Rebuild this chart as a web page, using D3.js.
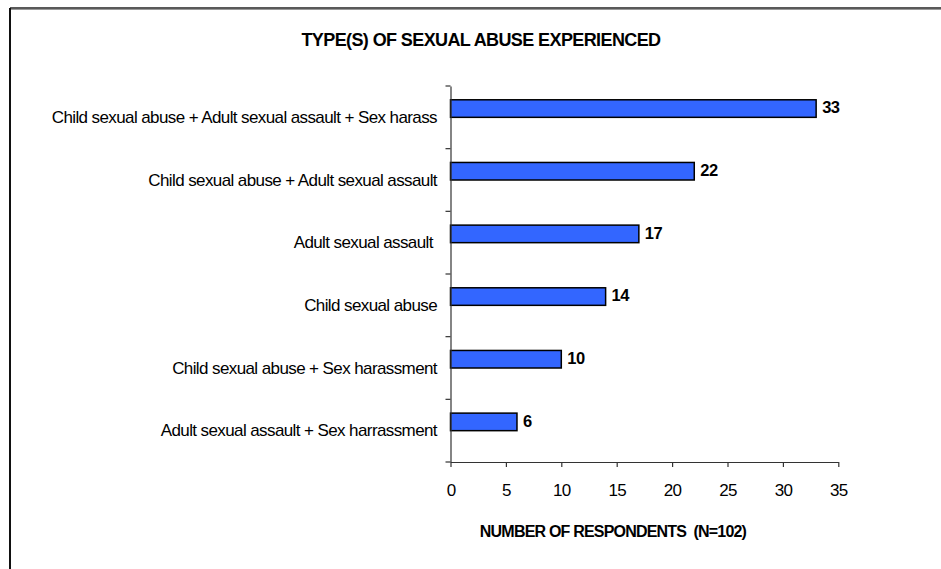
<!DOCTYPE html>
<html>
<head>
<meta charset="utf-8">
<script src="https://cdn.jsdelivr.net/npm/d3@7"></script>
<style>
  html, body { margin: 0; padding: 0; background: #fff; }
  svg { display: block; font-family: "Liberation Sans", Arial, sans-serif; }
</style>
</head>
<body>
<svg id="chart" width="941" height="569"></svg>
<script>
const categories = [
  "Child sexual abuse + Adult sexual assault + Sex harass",
  "Child sexual abuse + Adult sexual assault",
  "Adult sexual assault ",
  "Child sexual abuse",
  "Child sexual abuse + Sex harassment",
  "Adult sexual assault + Sex harrassment"
];
const values = [33, 22, 17, 14, 10, 6];
const xTicks = [0, 5, 10, 15, 20, 25, 30, 35];
const title = "TYPE(S) OF SEXUAL ABUSE EXPERIENCED";
const xTitle = "NUMBER OF RESPONDENTS  (N=102)";

const svg = d3.select("#chart");

// frame (top + left borders)
svg.append("line").attr("x1", 10).attr("y1", 8).attr("x2", 941).attr("y2", 8)
  .attr("stroke", "#222").attr("stroke-width", 1.5);
svg.append("line").attr("x1", 10).attr("y1", 9.5).attr("x2", 941).attr("y2", 9.5)
  .attr("stroke", "#999").attr("stroke-width", 1);
svg.append("line").attr("x1", 10).attr("y1", 8).attr("x2", 10).attr("y2", 569)
  .attr("stroke", "#111").attr("stroke-width", 2);

const x = d3.scaleLinear().domain([0, 35]).range([450.5, 838.3]);
const y = d3.scaleBand().domain(categories).range([86, 462]).padding(0);
const bw = y.bandwidth();

// title
svg.append("text").attr("x", 481).attr("y", 46).attr("text-anchor", "middle")
  .attr("font-size", 18).attr("font-weight", "bold").attr("letter-spacing", -0.6)
  .attr("fill", "#000").text(title);

// bars
svg.selectAll("rect.bar").data(values).join("rect").attr("class", "bar")
  .attr("x", x(0))
  .attr("y", (d, i) => y(categories[i]) + bw * 0.22)
  .attr("width", d => x(d) - x(0))
  .attr("height", bw * 0.28)
  .attr("fill", "#3366FF").attr("stroke", "#000").attr("stroke-width", 1.5);

// value labels
svg.selectAll("text.val").data(values).join("text").attr("class", "val")
  .attr("x", d => x(d) + 6)
  .attr("y", (d, i) => y(categories[i]) + bw * 0.22 + 13.5)
  .attr("font-size", 16.5).attr("font-weight", "bold").attr("letter-spacing", -0.5)
  .attr("fill", "#000").text(d => d);

// y axis
const yAxis = d3.axisLeft(y).tickSize(0).tickFormat("");
const gy = svg.append("g").attr("transform", `translate(${x(0)},0)`).call(yAxis);
gy.select(".domain").attr("stroke", "#333").attr("stroke-width", 1.2);
// boundary ticks between categories
const bounds = categories.map(c => y(c)).concat([y.range()[1]]);
svg.selectAll("line.ytick").data(bounds).join("line").attr("class", "ytick")
  .attr("x1", x(0) - 5).attr("x2", x(0)).attr("y1", d => d).attr("y2", d => d)
  .attr("stroke", "#333").attr("stroke-width", 1.2);

// category labels
svg.selectAll("text.cat").data(categories).join("text").attr("class", "cat")
  .attr("x", 437).attr("y", d => y(d) + bw / 2 + 5.5)
  .attr("text-anchor", "end").attr("font-size", 17).attr("letter-spacing", -0.6)
  .style("white-space", "pre")
  .attr("fill", "#000").text(d => d);

// x axis
const xAxis = d3.axisBottom(x).tickValues(xTicks).tickSize(5).tickSizeOuter(0).tickPadding(17);
const gx = svg.append("g").attr("transform", "translate(0,462)").call(xAxis);
gx.select(".domain").attr("stroke", "#333").attr("stroke-width", 1.2);
gx.selectAll(".tick line").attr("stroke", "#333").attr("stroke-width", 1.2);
gx.selectAll(".tick text").attr("font-size", 17).attr("letter-spacing", -0.7)
  .attr("font-family", "Liberation Sans, Arial, sans-serif").attr("fill", "#000");

// x axis title
svg.append("text").attr("x", 613).attr("y", 537).attr("text-anchor", "middle")
  .attr("font-size", 16).attr("font-weight", "bold").attr("letter-spacing", -0.8)
  .style("white-space", "pre")
  .attr("fill", "#000").text(xTitle);
</script>
</body>
</html>
